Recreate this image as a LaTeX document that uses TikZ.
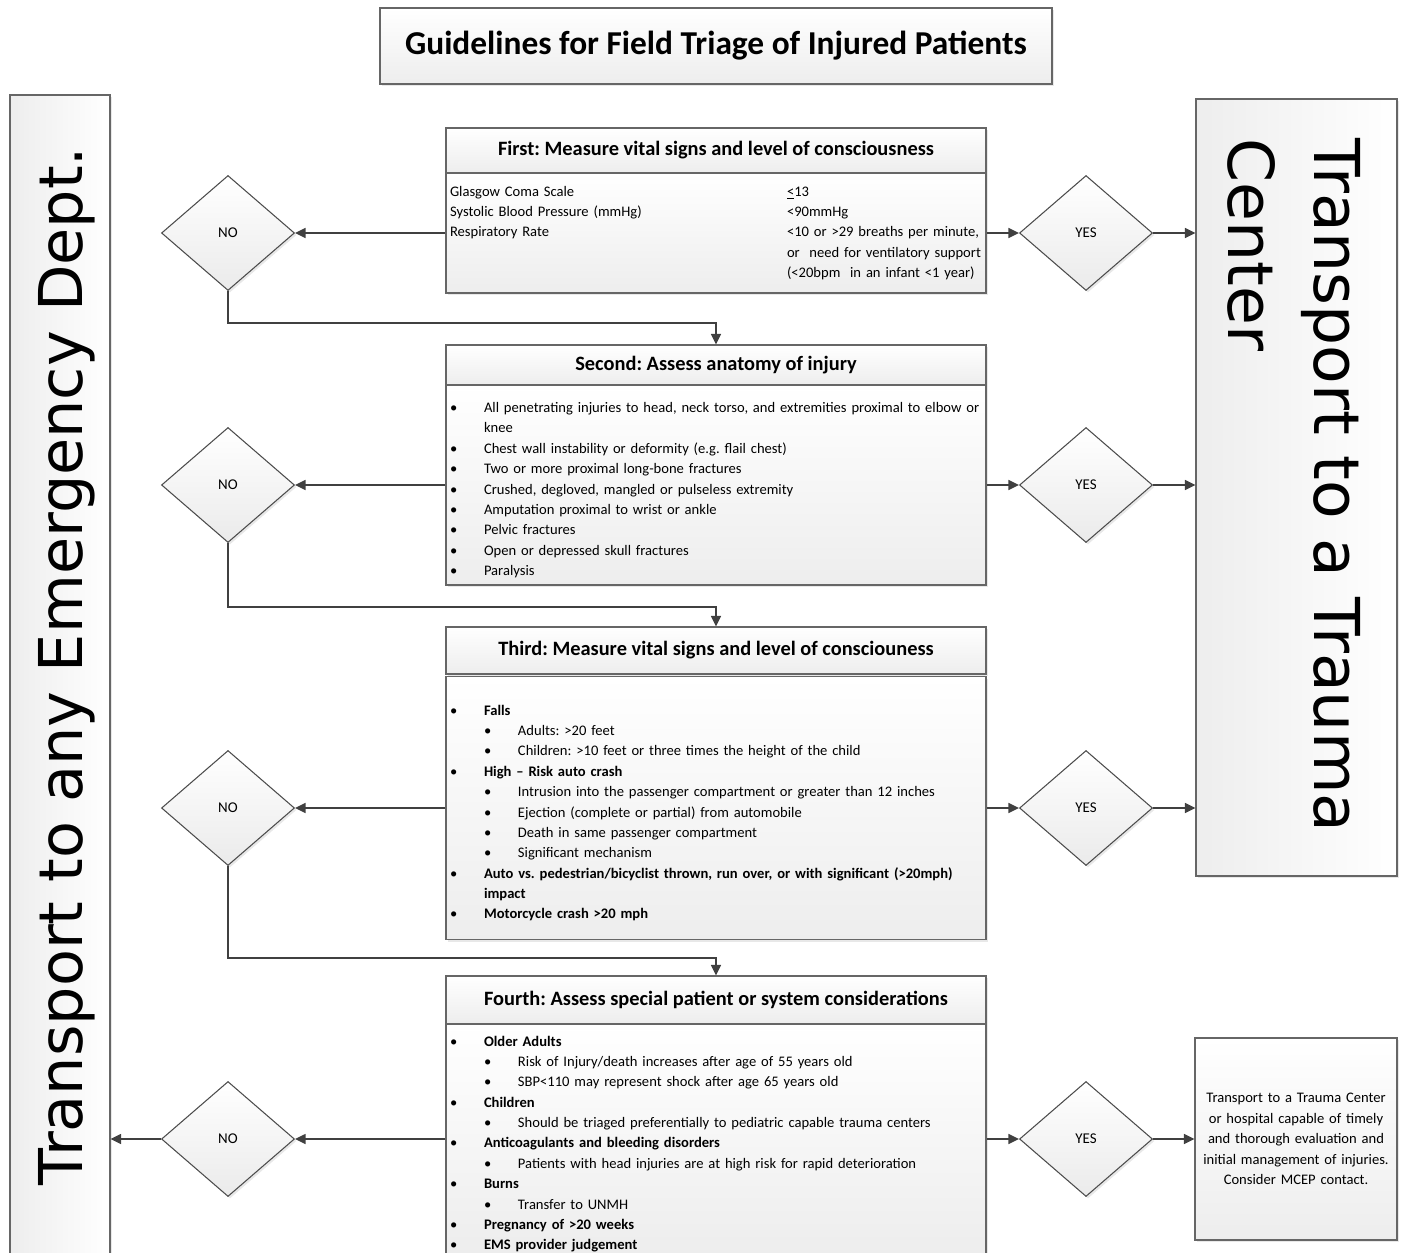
\documentclass[tikz,border=0pt]{standalone}
\usepackage{fontspec}
\setmainfont{Carlito}
\newfontfamily\bigfont{DejaVu Sans}
\usetikzlibrary{shapes.geometric,shadows,arrows.meta}
\frenchspacing
\newlength{\pxl}
\setlength{\pxl}{0.02cm}
% bullet lines, first and second level
\newcommand{\bl}[1]{\par\hangindent=34\pxl\hangafter=1\noindent\makebox[34\pxl][l]{\textbullet}#1}
\newcommand{\sbl}[1]{\par\hangindent=68\pxl\hangafter=1\noindent\hspace*{34\pxl}\makebox[34\pxl][l]{\textbullet}#1}
\newcommand{\lcol}[1]{\makebox[337\pxl][l]{#1}}
\tikzset{
  box/.style={draw=black!60, line width=0.6pt, top color=white, bottom color=black!7,
    drop shadow={shadow xshift=2\pxl, shadow yshift=-2\pxl, fill=black!18},
    minimum width=540\pxl, inner sep=0pt},
  head/.style={box, font=\fontsize{11.6}{13}\selectfont\bfseries},
  body/.style={box, text width=532\pxl, inner xsep=4\pxl, align=left,
    font=\fontsize{8.3}{11.6}\selectfont},
  tall/.style={box, left color=black!7, right color=white},
  dia/.style={diamond, aspect=1.16, minimum width=133\pxl, minimum height=115\pxl,
    inner sep=0pt, draw=black!70, line width=0.6pt, top color=white, bottom color=black!8,
    drop shadow={shadow xshift=2\pxl, shadow yshift=-2\pxl, fill=black!18},
    font=\fontsize{8.5}{10}\selectfont},
  conn/.style={draw=black!75, line width=1pt, -{Triangle[length=6pt,width=5.6pt]}}
}
\begin{document}
\begin{tikzpicture}[x=0.02cm, y=-0.02cm]
  \clip (0,0) rectangle (1405,1253);
  % title and the two sides
  \node[box, minimum width=672\pxl, minimum height=76\pxl, font=\fontsize{19}{22}\selectfont\bfseries] (title) at (716,46) {Guidelines for Field Triage of Injured Patients};
  \node[tall, minimum width=100\pxl, minimum height=1180\pxl] (ted) at (60,685) {};
  \node[rotate=90, anchor=north, inner sep=0pt, font=\bigfont\fontsize{34.4}{40}\selectfont] (tedtext) at (38,666) {Transport to any Emergency Dept.};
  \node[tall, minimum width=201\pxl, minimum height=777\pxl] (trc) at (1296.5,487.5) {};
  \node[rotate=-90, anchor=north west, inner sep=0pt, align=left, font=\bigfont\fontsize{36}{49}\selectfont] (trctext) at (1361,138) {Transport to a Trauma\\Center};

  % first step
  \node[head, minimum height=45\pxl] (h1) at (716,150.5) {First: Measure vital signs and level of consciousness};
  \node[body, minimum height=120\pxl] (d1) at (716,233) {%
    \lcol{Glasgow Coma Scale}\underline{<}13\newline
    \lcol{Systolic Blood Pressure (mmHg)}<90mmHg\newline
    \lcol{Respiratory Rate}<10 or >29 breaths per minute,\newline
    \hspace*{337\pxl}or\ \ need for ventilatory support\newline
    \hspace*{337\pxl}(<20bpm\ \ in an infant <1 year)};
  \node[dia] (no1) at (228,233) {NO};
  \node[dia] (yes1) at (1086,233) {YES};
  \coordinate (j1) at (716,323);

  % second step
  \node[head, minimum height=40\pxl] (h2) at (716,365) {Second: Assess anatomy of injury};
  \node[body, minimum height=200\pxl] (d2) at (716,485) {%
    \bl{All penetrating injuries to head, neck torso, and extremities proximal to elbow or\newline knee}
    \bl{Chest wall instability or deformity (e.g. flail chest)}
    \bl{Two or more proximal long-bone fractures}
    \bl{Crushed, degloved, mangled or pulseless extremity}
    \bl{Amputation proximal to wrist or ankle}
    \bl{Pelvic fractures}
    \bl{Open or depressed skull fractures}
    \bl{Paralysis}};
  \node[dia] (no2) at (228,485) {NO};
  \node[dia] (yes2) at (1086,485) {YES};
  \coordinate (j2) at (716,607);

  % third step
  \node[head, minimum height=47\pxl] (h3) at (716,650.5) {Third: Measure vital signs and level of consciouness};
  \node[body, minimum height=263\pxl] (d3) at (716,808) {%
    \bl{\textbf{Falls}}
    \sbl{Adults: >20 feet}
    \sbl{Children: >10 feet or three times the height of the child}
    \bl{\textbf{High – Risk auto crash}}
    \sbl{Intrusion into the passenger compartment or greater than 12 inches}
    \sbl{Ejection (complete or partial) from automobile}
    \sbl{Death in same passenger compartment}
    \sbl{Significant mechanism}
    \bl{\textbf{Auto vs. pedestrian/bicyclist thrown, run over, or with significant (>20mph)\newline impact}}
    \bl{\textbf{Motorcycle crash >20 mph}}};
  \node[dia] (no3) at (228,808) {NO};
  \node[dia] (yes3) at (1086,808) {YES};
  \coordinate (j3) at (716,958);

  % fourth step
  \node[head, minimum height=48\pxl] (h4) at (716,1000) {Fourth: Assess special patient or system considerations};
  \node[body, minimum height=230\pxl] (d4) at (716,1139) {%
    \bl{\textbf{Older Adults}}
    \sbl{Risk of Injury/death increases after age of 55 years old}
    \sbl{SBP<110 may represent shock after age 65 years old}
    \bl{\textbf{Children}}
    \sbl{Should be triaged preferentially to pediatric capable trauma centers}
    \bl{\textbf{Anticoagulants and bleeding disorders}}
    \sbl{Patients with head injuries are at high risk for rapid deterioration}
    \bl{\textbf{Burns}}
    \sbl{Transfer to UNMH}
    \bl{\textbf{Pregnancy of >20 weeks}}
    \bl{\textbf{EMS provider judgement}}};
  \node[dia] (no4) at (228,1139) {NO};
  \node[dia] (yes4) at (1086,1139) {YES};
  \node[box, minimum width=202\pxl, minimum height=202\pxl, text width=198\pxl, align=center, font=\fontsize{8.3}{11.6}\selectfont] (final) at (1296,1139) {Transport to a Trauma Center\\or hospital capable of timely\\and thorough evaluation and\\initial management of injuries.\\Consider MCEP contact.};

  % connectors
  \draw[conn] (d1.west) -- (no1.east);
  \draw[conn] (d1.east) -- (yes1.west);
  \draw[conn] (yes1.east) -- (yes1.east -| trc.west);
  \draw[conn] (no1.south) |- (j1) -- (h2.north);
  \draw[conn] (d2.west) -- (no2.east);
  \draw[conn] (d2.east) -- (yes2.west);
  \draw[conn] (yes2.east) -- (yes2.east -| trc.west);
  \draw[conn] (no2.south) |- (j2) -- (h3.north);
  \draw[conn] (d3.west) -- (no3.east);
  \draw[conn] (d3.east) -- (yes3.west);
  \draw[conn] (yes3.east) -- (yes3.east -| trc.west);
  \draw[conn] (no3.south) |- (j3) -- (h4.north);
  \draw[conn] (d4.west) -- (no4.east);
  \draw[conn] (d4.east) -- (yes4.west);
  \draw[conn] (yes4.east) -- (final.west);
  \draw[conn] (no4.west) -- (no4.west -| ted.east);
\end{tikzpicture}
\end{document}
